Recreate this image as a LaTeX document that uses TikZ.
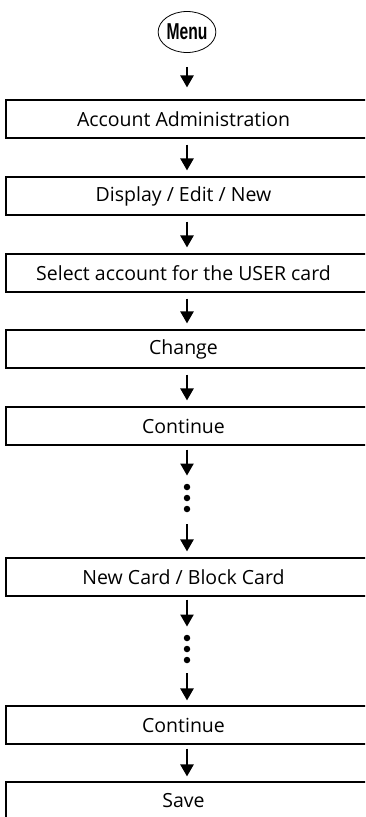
\documentclass[tikz,border=0pt]{standalone}
\usepackage{fontspec}
\setmainfont{Open Sans}
\newfontfamily\menufont{Liberation Sans}
\usetikzlibrary{arrows.meta,shapes.geometric}
\begin{document}
\begin{tikzpicture}[x=1pt,y=-1pt,
  stepbox/.style={draw, line width=1.1pt, minimum width=362pt, minimum height=38pt, inner sep=0pt, font=\fontsize{19.5}{22}\selectfont},
  arr/.style={line width=2.3pt, -{Triangle[width=13pt,length=12pt]}},
  dotnode/.style={circle, fill, inner sep=0pt, minimum size=6.5pt}]
\clip (0,0) rectangle (365,817);
\node[ellipse, draw, line width=0.8pt, minimum width=45pt, minimum height=41pt, inner sep=0pt] (menu) at (187,32) {\menufont\bfseries\fontsize{23}{24}\selectfont\scalebox{0.68}[1]{Menu}};
\node[stepbox] (b1) at (187,119) {\hspace*{-7pt}Account Administration};
\node[stepbox] (b2) at (187,196) {\hspace*{-7pt}Display / Edit / New};
\node[stepbox] (b3) at (187,273) {\hspace*{-7pt}Select account for the USER card};
\node[stepbox] (b4) at (187,349) {\hspace*{-7pt}Change};
\node[stepbox] (b5) at (187,426) {\hspace*{-7pt}Continue};
\node[stepbox] (b6) at (187,577) {\hspace*{-7pt}New Card / Block Card};
\node[stepbox] (b7) at (187,725) {\hspace*{-7pt}Continue};
\node[stepbox] (b8) at (187,801) {\hspace*{-7pt}Save};
\node[dotnode] (d1) at (187,487) {};
\node[dotnode] (d2) at (187,498) {};
\node[dotnode] (d3) at (187,509) {};
\node[dotnode] (d4) at (187,638) {};
\node[dotnode] (d5) at (187,649) {};
\node[dotnode] (d6) at (187,660) {};
\draw[arr, shorten <=14pt, shorten >=12pt] (menu.south) -- (b1.north);
\draw[arr, shorten <=6pt, shorten >=6pt] (b1.south) -- (b2.north);
\draw[arr, shorten <=6pt, shorten >=6pt] (b2.south) -- (b3.north);
\draw[arr, shorten <=6pt, shorten >=6pt] (b3.south) -- (b4.north);
\draw[arr, shorten <=6pt, shorten >=6pt] (b4.south) -- (b5.north);
\draw[arr, shorten <=4pt, shorten >=8pt] (b5.south) -- (d1.north);
\draw[arr, shorten <=12pt, shorten >=6pt] (d3.south) -- (b6.north);
\draw[arr, shorten <=3pt, shorten >=8pt] (b6.south) -- (d4.north);
\draw[arr, shorten <=10pt, shorten >=5pt] (d6.south) -- (b7.north);
\draw[arr, shorten <=4pt, shorten >=5pt] (b7.south) -- (b8.north);
\end{tikzpicture}
\end{document}
